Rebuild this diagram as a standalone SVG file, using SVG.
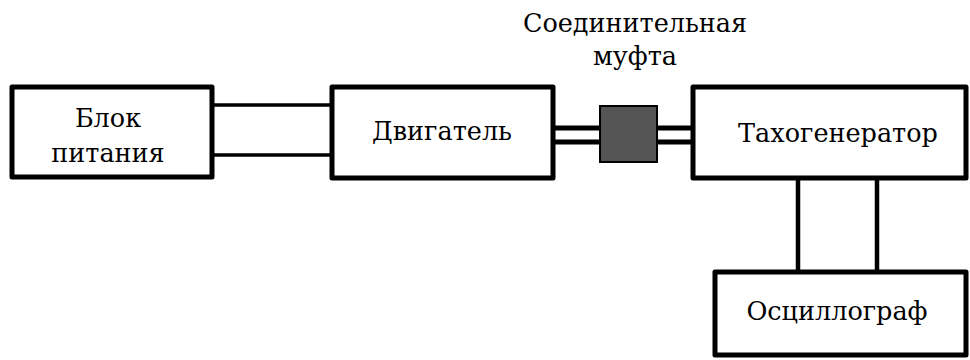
<svg xmlns="http://www.w3.org/2000/svg" width="970" height="360" viewBox="0 0 970 360">
<style>
.box{fill:#fff;stroke:#000;stroke-width:5;stroke-linejoin:round}
text{font-family:'DejaVu Serif',serif;font-size:25.5px;fill:#000;text-anchor:middle}
.w{stroke:#000;stroke-width:3.5;fill:none}
.s{stroke:#000;stroke-width:5;fill:none}
.v{stroke:#000;stroke-width:4.5;fill:none}
</style>
<rect width="970" height="360" fill="#fff"/>
<g id="connectors">
<line class="w" x1="212" y1="105" x2="332" y2="105"/>
<line class="w" x1="212" y1="155" x2="332" y2="155"/>
<line class="s" x1="555" y1="128" x2="600" y2="128"/>
<line class="s" x1="555" y1="142" x2="600" y2="142"/>
<line class="s" x1="657" y1="128" x2="693" y2="128"/>
<line class="s" x1="657" y1="142" x2="693" y2="142"/>
<line class="v" x1="798" y1="178" x2="798" y2="272"/>
<line class="v" x1="877" y1="178" x2="877" y2="272"/>
</g>
<g id="power">
<rect class="box" x="12" y="87" width="200" height="90"/>
<text x="108" y="127">Блок</text>
<text x="108" y="162">питания</text>
</g>
<g id="motor">
<rect class="box" x="332" y="87" width="221" height="91"/>
<text x="442" y="140">Двигатель</text>
</g>
<g id="coupling">
<rect x="600" y="106" width="57" height="56" fill="#555" stroke="#000" stroke-width="2"/>
<text x="635" y="32">Соединительная</text>
<text x="635" y="65">муфта</text>
</g>
<g id="tacho">
<rect class="box" x="693" y="87" width="273" height="91"/>
<text x="838" y="142">Тахогенератор</text>
</g>
<g id="osc">
<rect class="box" x="715" y="272" width="251" height="83"/>
<text x="837" y="320">Осциллограф</text>
</g>
</svg>
